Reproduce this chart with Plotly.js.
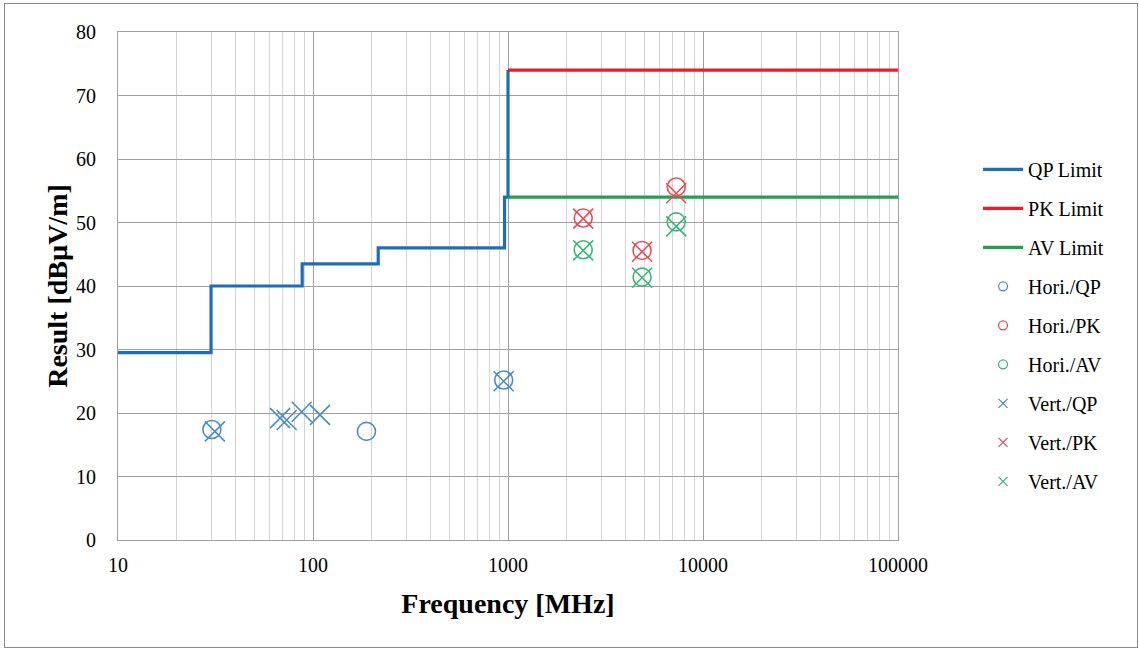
<!DOCTYPE html>
<html>
<head>
<meta charset="utf-8">
<script src="https://cdn.plot.ly/plotly-3.0.1.min.js"></script>
<style>
  html, body { margin: 0; padding: 0; background: #ffffff; }
  #chart { position: absolute; left: 0; top: 0; width: 1139px; height: 648px; }
  #frame { position: absolute; left: 4px; top: 3px; width: 1132px; height: 643px; border: 1px solid #8a8a8a; pointer-events: none; }
</style>
</head>
<body>
<div id="chart"></div>
<div id="frame"></div>
<script>
// ---- Data ----
const qpLimitFreq = [10, 30, 30, 88, 88, 216, 216, 960, 960, 1000, 1000];
const qpLimitVal  = [29.5, 29.5, 40, 40, 43.5, 43.5, 46, 46, 54, 54, 74];
const pkLimitFreq = [1000, 100000];
const pkLimitVal  = [74, 74];
const avLimitFreq = [1000, 100000];
const avLimitVal  = [54, 54];

const horiQpFreq = [30.3, 188, 950];
const horiQpVal  = [17.4, 17.1, 25.2];
const horiPkFreq = [2430, 4870, 7290];
const horiPkVal  = [50.7, 45.6, 55.6];
const horiAvFreq = [2430, 4870, 7290];
const horiAvVal  = [45.7, 41.4, 50.1];

const vertQpFreq = [31.4, 67.8, 73.3, 87.5, 108.6, 950];
const vertQpVal  = [17.1, 19.2, 18.9, 20.2, 19.7, 25.0];
const vertPkFreq = [2430, 4870, 7290];
const vertPkVal  = [50.6, 45.4, 54.6];
const vertAvFreq = [2430, 4870, 7290];
const vertAvVal  = [45.6, 41.3, 49.4];

const xTickVals = [10, 100, 1000, 10000, 100000];
const xTickText = ['10', '100', '1000', '10000', '100000'];

// ---- Styles ----
const blueLine = '#1f6db8', redLine = '#ee1c25', greenLine = '#22a052';
const blueMk = '#4a8cc8', redMk = '#e2505c', greenMk = '#3db57a';
const serif = 'Liberation Serif, Times New Roman, serif';

function limit(name, x, y, color, g) {
  return { x: x, y: y, name: name, type: 'scatter', mode: 'lines',
    line: { color: color, width: 3.2 }, legendgroup: g, hoverinfo: 'skip' };
}
function pts(name, x, y, color, sym) {
  return { x: x, y: y, name: name, type: 'scatter', mode: 'markers', showlegend: false,
    marker: { symbol: sym, size: sym === 'circle-open' ? 18 : 20, color: color, line: { color: color, width: 1.6 } } };
}
function legendOnly(name, color, sym, g) {
  return { x: [null], y: [null], name: name, type: 'scatter', mode: 'markers', legendgroup: g,
    marker: { symbol: sym, size: 9, color: color, line: { color: color, width: 1.3 } } };
}

const data = [
  limit('QP Limit', qpLimitFreq, qpLimitVal, blueLine, 'a'),
  limit('PK Limit', pkLimitFreq, pkLimitVal, redLine, 'b'),
  limit('AV Limit', avLimitFreq, avLimitVal, greenLine, 'c'),
  pts('Hori./QP', horiQpFreq, horiQpVal, blueMk, 'circle-open'),
  pts('Hori./PK', horiPkFreq, horiPkVal, redMk, 'circle-open'),
  pts('Hori./AV', horiAvFreq, horiAvVal, greenMk, 'circle-open'),
  pts('Vert./QP', vertQpFreq, vertQpVal, blueMk, 'x-thin-open'),
  pts('Vert./PK', vertPkFreq, vertPkVal, redMk, 'x-thin-open'),
  pts('Vert./AV', vertAvFreq, vertAvVal, greenMk, 'x-thin-open'),
  legendOnly('Hori./QP', blueMk, 'circle-open', 'd'),
  legendOnly('Hori./PK', redMk, 'circle-open', 'e'),
  legendOnly('Hori./AV', greenMk, 'circle-open', 'f'),
  legendOnly('Vert./QP', blueMk, 'x-thin-open', 'g'),
  legendOnly('Vert./PK', redMk, 'x-thin-open', 'h'),
  legendOnly('Vert./AV', greenMk, 'x-thin-open', 'i')
];

const layout = {
  width: 1139, height: 648,
  margin: { l: 118, r: 241, t: 32, b: 108 },
  paper_bgcolor: '#ffffff', plot_bgcolor: '#ffffff',
  font: { family: serif, size: 20, color: '#000000' },
  showlegend: true,
  legend: {
    x: 1.1026, y: 0.768, xanchor: 'left', yanchor: 'top',
    font: { family: serif, size: 20, color: '#000' },
    tracegroupgap: 10, itemwidth: 40, bgcolor: 'rgba(0,0,0,0)'
  },
  xaxis: {
    type: 'log', range: [1, 5],
    tickvals: xTickVals, ticktext: xTickText,
    showgrid: true, gridcolor: '#a0a0a0', gridwidth: 1,
    minor: { dtick: 'D1', showgrid: true, gridcolor: '#d4d4d4', gridwidth: 1, ticks: '' },
    showline: true, mirror: true, linecolor: '#a0a0a0', linewidth: 1,
    ticks: '', ticklabelstandoff: 7, zeroline: false,
    tickfont: { family: serif, size: 20, color: '#000' },
    title: { text: '<b>Frequency [MHz]</b>', font: { family: serif, size: 28, color: '#000' }, standoff: 18 }
  },
  yaxis: {
    range: [0, 80], dtick: 10, tick0: 0,
    showgrid: true, gridcolor: '#a0a0a0', gridwidth: 1,
    showline: true, mirror: true, linecolor: '#a0a0a0', linewidth: 1,
    ticks: '', ticklabelstandoff: 17, zeroline: false,
    tickfont: { family: serif, size: 20, color: '#000' },
    title: { text: '<b>Result [dBµV/m]</b>', font: { family: serif, size: 28, color: '#000' }, standoff: 0 }
  }
};

Plotly.newPlot('chart', data, layout, { displayModeBar: false, staticPlot: true });
</script>
</body>
</html>
